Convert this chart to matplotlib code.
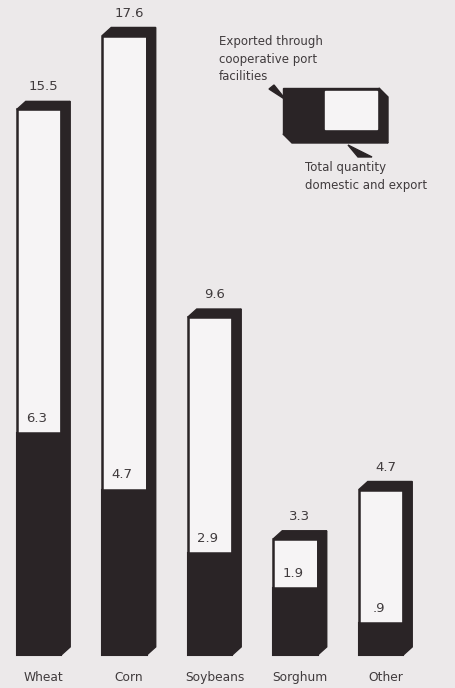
import matplotlib
matplotlib.use("Agg")
import matplotlib.pyplot as plt
from matplotlib.patches import Polygon

# grain handled through cooperative facilities, million tons
crops = ["Wheat", "Corn", "Soybeans", "Sorghum", "Other"]
total = [15.5, 17.6, 9.6, 3.3, 4.7]
exported = [6.3, 4.7, 2.9, 1.9, 0.9]
exported_lbl = ["6.3", "4.7", "2.9", "1.9", ".9"]

BG = "#ece9ea"
FACE = "#f6f4f5"
DARK = "#2a2426"
TXT = "#403b3d"

W, H = 455, 688
fig = plt.figure(figsize=(W / 100, H / 100), dpi=100, facecolor=BG)
ax = fig.add_axes([0, 0, 1, 1])
ax.set_facecolor(BG)
ax.set_xlim(-0.456, 4.865)
ax.set_ylim(-0.9375, 18.61)
ax.axis("off")

bw = 0.52      # front face width
dx, dy = 0.105, 0.23   # depth of the box sides

x = range(len(crops))
ax.bar(x, exported, width=bw, color=DARK, edgecolor=DARK, linewidth=1.5, zorder=2)
ax.bar(x, [t - e for t, e in zip(total, exported)], bottom=exported, width=bw,
       color=FACE, edgecolor=DARK, linewidth=1.8, zorder=2)

for i, (t, e) in enumerate(zip(total, exported)):
    x0, x1 = i - bw / 2, i + bw / 2
    top = Polygon([(x0, t), (x0 + dx, t + dy), (x1 + dx, t + dy), (x1, t)],
                  closed=True, color=DARK, zorder=3)
    side = Polygon([(x1, t), (x1 + dx, t + dy), (x1 + dx, dy), (x1, 0)],
                   closed=True, color=DARK, zorder=3)
    ax.add_patch(top)
    ax.add_patch(side)
    ax.text(i + dx / 2, t + 0.64, f"{t}", ha="center", va="center",
            fontsize=9.5, color=TXT)
    ax.text(i - 0.03, e + 0.42, exported_lbl[i], ha="center", va="center",
            fontsize=9.5, color=TXT, zorder=4)
    ax.text(i + dx / 2, -0.63, crops[i], ha="center", va="center",
            fontsize=8.8, color=TXT)

# key in the upper right, laid out in pixels
def px(xp, yp):
    return (xp / W, 1 - yp / H)

tf = fig.transFigure
key = [
    ([px(283, 88), px(379, 88), px(379, 134), px(283, 134)], DARK),
    ([px(379, 88), px(388, 97), px(388, 143), px(379, 134)], DARK),
    ([px(283, 134), px(292, 143), px(388, 143), px(379, 134)], DARK),
    ([px(325, 91), px(377, 91), px(377, 129), px(325, 129)], FACE),
    ([px(269, 89), px(274, 85), px(286, 100)], DARK),
    ([px(348, 145), px(372, 157), px(358, 157)], DARK),
]
for pts, c in key:
    fig.patches.append(Polygon(pts, closed=True, color=c, transform=tf, zorder=5))

fig.text(*px(219, 41), "Exported through", fontsize=8.5, color=TXT, va="center")
fig.text(*px(219, 59), "cooperative port", fontsize=8.5, color=TXT, va="center")
fig.text(*px(219, 77), "facilities", fontsize=8.5, color=TXT, va="center")
fig.text(*px(305, 168), "Total quantity", fontsize=8.5, color=TXT, va="center")
fig.text(*px(305, 186), "domestic and export", fontsize=8.5, color=TXT, va="center")

fig.savefig("out.png", dpi=100, facecolor=BG)
